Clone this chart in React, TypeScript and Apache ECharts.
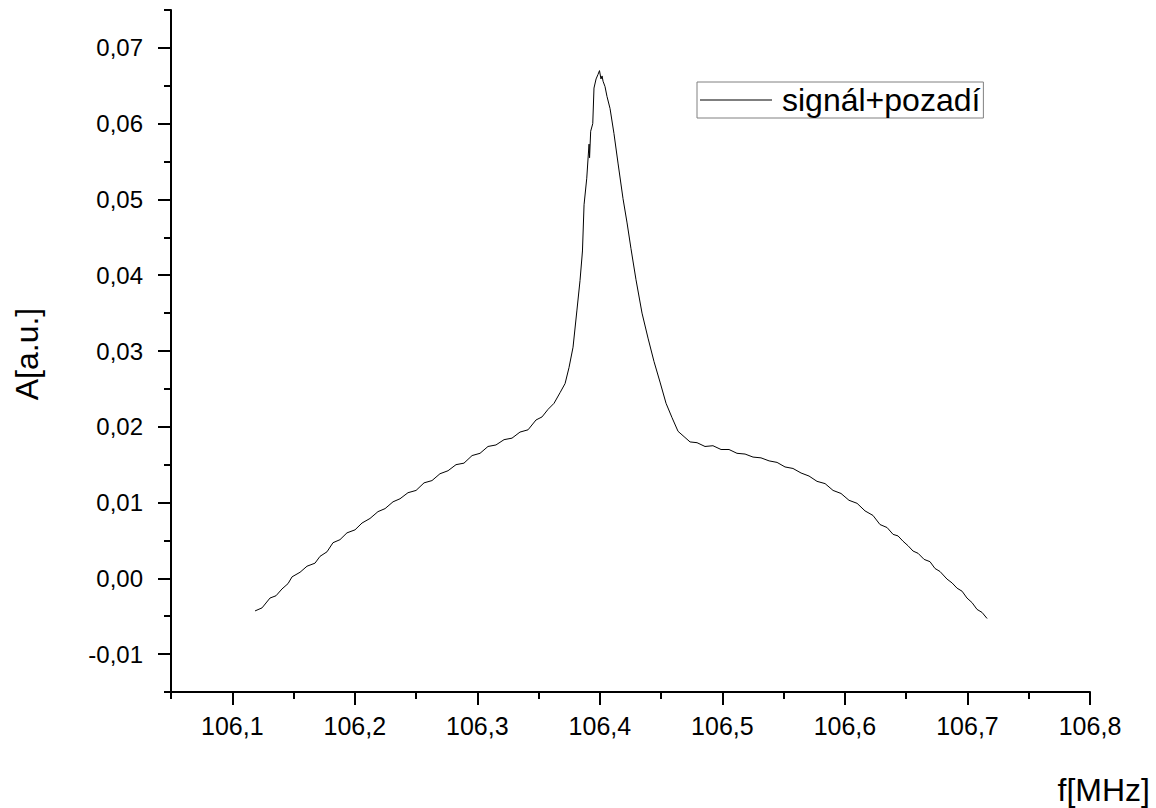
import React, { useEffect, useRef } from "react";
import * as echarts from "echarts";

const seriesName = "signál+pozadí";
const xTitle = "f[MHz]";
const yTitle = "A[a.u.]";

const xMajorTicks = [106.1, 106.2, 106.3, 106.4, 106.5, 106.6, 106.7, 106.8];
const xMinorTicks = [106.05, 106.15, 106.25, 106.35, 106.45, 106.55, 106.65, 106.75];
const yMajorTicks = [-0.01, 0, 0.01, 0.02, 0.03, 0.04, 0.05, 0.06, 0.07];
const yMinorTicks = [-0.015, -0.005, 0.005, 0.015, 0.025, 0.035, 0.045, 0.055, 0.065, 0.075];

const freq = [
  106.1186, 106.1243, 106.1308, 106.1357, 106.1406, 106.1455, 106.1488, 106.1553, 106.161, 106.1675,
  106.1716, 106.1773, 106.1822, 106.1879, 106.1936, 106.2002, 106.2059, 106.2124, 106.2189, 106.2247,
  106.2312, 106.2369, 106.2434, 106.25, 106.2565, 106.263, 106.2695, 106.2761, 106.2826, 106.2891,
  106.2957, 106.3022, 106.3087, 106.3152, 106.3218, 106.3283, 106.3348, 106.3414, 106.3479, 106.3528,
  106.3577, 106.3626, 106.3675, 106.3716, 106.3748, 106.3781, 106.3813, 106.3838, 106.3858, 106.3871,
  106.3893, 106.3906, 106.3912, 106.3916, 106.3925, 106.3942, 106.3952, 106.3969, 106.3985, 106.3997,
  106.4009, 106.4018, 106.4026, 106.4042, 106.4058, 106.4083, 106.4115, 106.4148, 106.4189, 106.4222,
  106.4254, 106.4295, 106.4344, 106.4393, 106.4442, 106.4491, 106.454, 106.4589, 106.4638, 106.4687,
  106.4736, 106.4793, 106.4858, 106.4923, 106.4989, 106.5054, 106.5119, 106.5185, 106.525, 106.5315,
  106.5381, 106.5446, 106.5511, 106.5576, 106.5642, 106.5707, 106.5772, 106.5838, 106.5903, 106.5968,
  106.6033, 106.6099, 106.6164, 106.6229, 106.6286, 106.6344, 106.6393, 106.6433, 106.6474, 106.6515,
  106.6556, 106.6597, 106.6646, 106.6694, 106.6735, 106.6776, 106.6833, 106.6874, 106.6915, 106.6956,
  106.6996, 106.7037, 106.7078, 106.7119, 106.716,
];

const amplitude = [
  -0.0043, -0.0039, -0.0026, -0.0023, -0.0014, -0.0007, 0.0002, 0.0008, 0.0016, 0.002,
  0.0029, 0.0035, 0.0047, 0.0051, 0.006, 0.0064, 0.0073, 0.0079, 0.0088, 0.0092,
  0.0101, 0.0105, 0.0113, 0.0116, 0.0126, 0.0129, 0.0138, 0.0142, 0.015, 0.0152,
  0.0162, 0.0165, 0.0174, 0.0176, 0.0183, 0.0185, 0.0193, 0.0196, 0.0209, 0.0213,
  0.0223, 0.0231, 0.0245, 0.0257, 0.0278, 0.0305, 0.0354, 0.0393, 0.0432, 0.0493,
  0.0528, 0.056, 0.0573, 0.0555, 0.059, 0.06, 0.0647, 0.0659, 0.0665, 0.067,
  0.0659, 0.0663, 0.0656, 0.0649, 0.0636, 0.062, 0.0587, 0.0548, 0.0501, 0.0469,
  0.0435, 0.0394, 0.035, 0.0317, 0.0286, 0.0259, 0.0231, 0.0212, 0.0194, 0.0187,
  0.018, 0.0179, 0.0174, 0.0175, 0.017, 0.017, 0.0165, 0.0164, 0.016, 0.0159,
  0.0155, 0.0153, 0.0147, 0.0145, 0.0139, 0.0135, 0.0128, 0.0125, 0.0116, 0.0112,
  0.0103, 0.0099, 0.0089, 0.0083, 0.0071, 0.0067, 0.0058, 0.0056, 0.0049, 0.0043,
  0.0036, 0.0033, 0.0025, 0.0022, 0.0013, 0.0009, -0.0001, -0.0006, -0.0013, -0.0017,
  -0.0026, -0.0032, -0.0041, -0.0045, -0.0053,
];

const FONT = "'Liberation Sans', Arial, Helvetica, sans-serif";

export default function App() {
  const ref = useRef<HTMLDivElement>(null);

  useEffect(() => {
    if (!ref.current) return;
    const chart = echarts.init(ref.current, null, { renderer: "svg" });
    const axisLineStyle = { color: "#000", width: 2 };
    const xFmt = (v: number) => v.toFixed(1).replace(".", ",");
    const yFmt = (v: number) => v.toFixed(2).replace(".", ",");

    chart.setOption({
      animation: false,
      backgroundColor: "#fff",
      grid: { left: 171, right: 66, top: 10, bottom: 116, containLabel: false },
      legend: {
        data: [seriesName],
        left: 697,
        top: 82,
        padding: [2, 3, 2, 3],
        itemWidth: 72,
        itemHeight: 1,
        icon: "rect",
        borderColor: "#808080",
        borderWidth: 1,
        itemStyle: { color: "#000", borderWidth: 0 },
        textStyle: { fontSize: 32, fontFamily: FONT, color: "#000", padding: [0, 0, 0, 5] },
      },
      xAxis: [
        {
          type: "value",
          min: 106.05,
          max: 106.8,
          position: "bottom",
          axisLine: { show: true, onZero: false, lineStyle: axisLineStyle },
          axisTick: { show: true, customValues: xMajorTicks, length: 13, lineStyle: axisLineStyle },
          axisLabel: {
            show: true,
            customValues: xMajorTicks,
            formatter: xFmt,
            fontSize: 25,
            margin: 21,
            color: "#000",
            fontFamily: FONT,
          },
          splitLine: { show: false },
        },
        {
          type: "value",
          min: 106.05,
          max: 106.8,
          position: "bottom",
          offset: 0,
          axisLine: { show: false, onZero: false },
          axisTick: { show: true, customValues: xMinorTicks, length: 7, lineStyle: axisLineStyle },
          axisLabel: { show: false },
          splitLine: { show: false },
        },
      ],
      yAxis: [
        {
          type: "value",
          min: -0.015,
          max: 0.075,
          position: "left",
          axisLine: { show: true, onZero: false, lineStyle: axisLineStyle },
          axisTick: { show: true, customValues: yMajorTicks, length: 13, lineStyle: axisLineStyle },
          axisLabel: {
            show: true,
            customValues: yMajorTicks,
            formatter: yFmt,
            fontSize: 24,
            margin: 28,
            color: "#000",
            fontFamily: FONT,
          },
          splitLine: { show: false },
        },
        {
          type: "value",
          min: -0.015,
          max: 0.075,
          position: "left",
          offset: 0,
          axisLine: { show: false, onZero: false },
          axisTick: { show: true, customValues: yMinorTicks, length: 7, lineStyle: axisLineStyle },
          axisLabel: { show: false },
          splitLine: { show: false },
        },
      ],
      graphic: [
        {
          type: "text",
          right: 6,
          top: 774,
          style: { text: xTitle, fontSize: 32, fontFamily: FONT, fill: "#000" },
        },
        {
          type: "text",
          x: 27,
          y: 354,
          rotation: Math.PI / 2,
          style: {
            text: yTitle,
            fontSize: 32,
            fontFamily: FONT,
            fill: "#000",
            align: "center",
            verticalAlign: "middle",
          },
        },
      ],
      series: [
        {
          name: seriesName,
          type: "line",
          xAxisIndex: 0,
          yAxisIndex: 0,
          data: freq.map((f, i) => [f, amplitude[i]]),
          symbol: "none",
          showSymbol: false,
          lineStyle: { color: "#000", width: 1 },
          itemStyle: { color: "#000" },
        },
      ],
    });
    return () => chart.dispose();
  }, []);

  return (
    <div
      ref={ref}
      style={{ position: "absolute", left: 0, top: 0, width: 1156, height: 808, background: "#fff" }}
    />
  );
}
